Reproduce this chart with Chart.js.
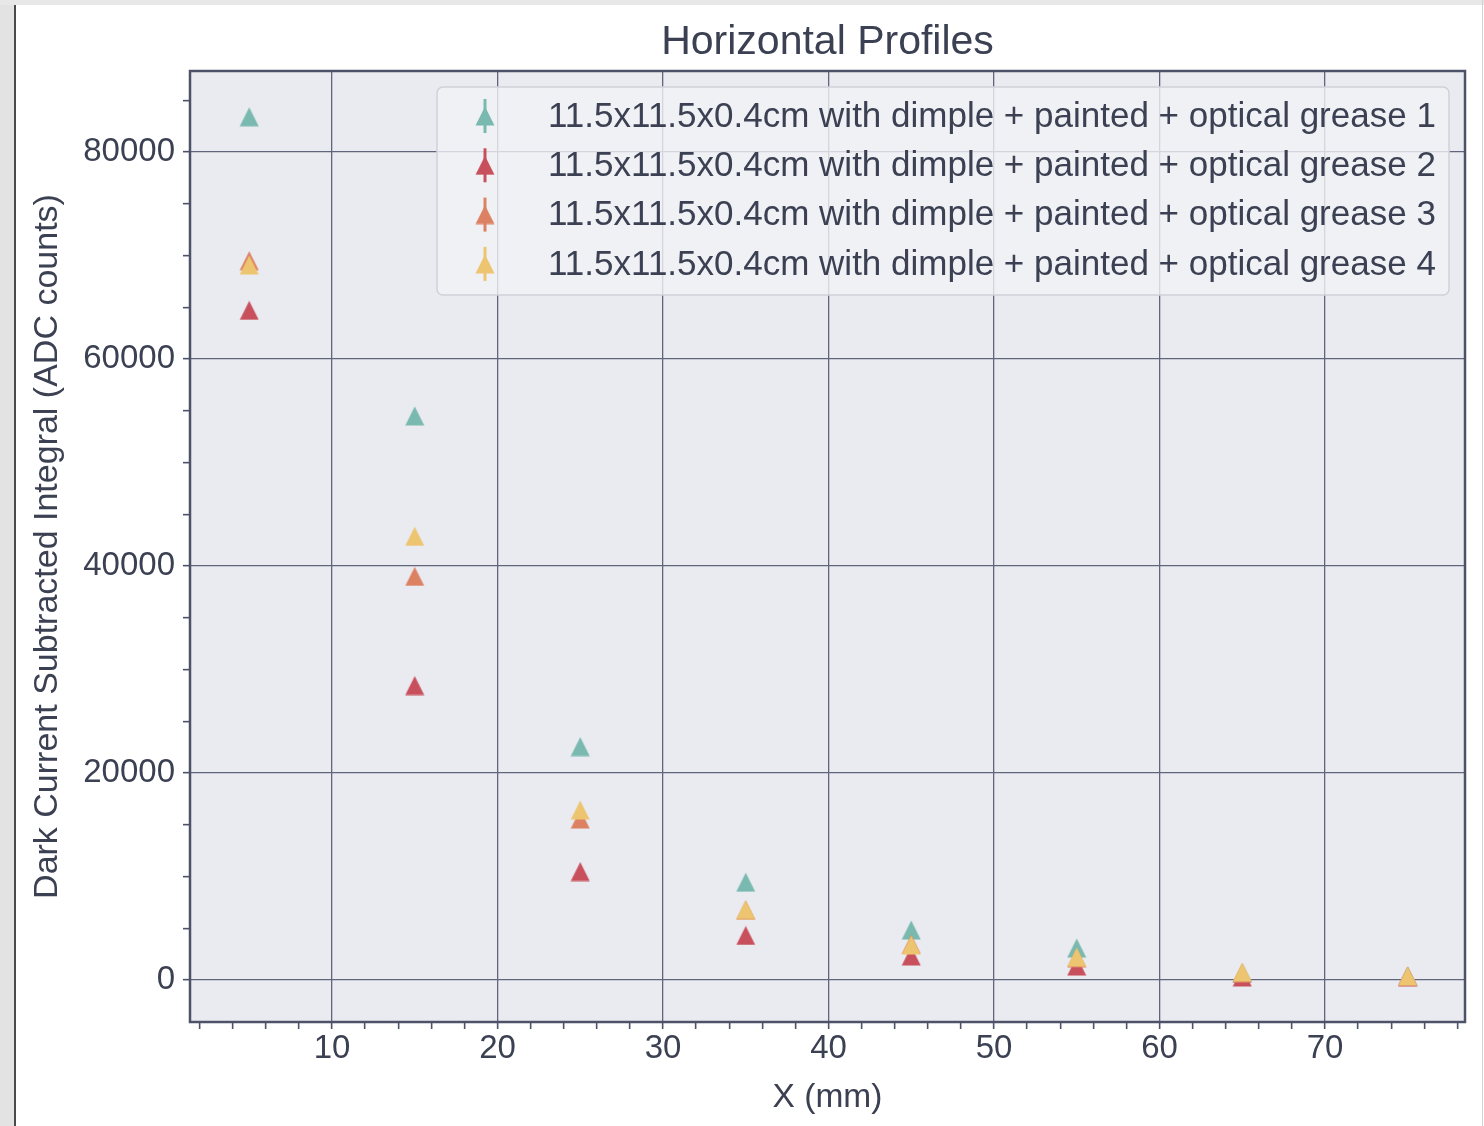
<!DOCTYPE html>
<html>
<head>
<meta charset="utf-8">
<script src="https://cdn.jsdelivr.net/npm/chart.js@4"></script>
<style>
html,body{margin:0;padding:0;background:#fff;width:1484px;height:1126px;overflow:hidden}
.strip{position:absolute}
canvas{position:absolute;left:0;top:0}
</style>
</head>
<body>
<div class="strip" style="left:0;top:0;width:14px;height:1126px;background:#e3e3e3"></div>
<div class="strip" style="left:14px;top:0;width:2px;height:1126px;background:#4a4a4a"></div>
<div class="strip" style="left:0;top:0;width:1484px;height:5px;background:#e8e8e8"></div>
<div class="strip" style="left:1482px;top:0;width:1px;height:1126px;background:#d4d4d4"></div>
<canvas id="c" width="1484" height="1126"></canvas>
<script>
// ---- data ----
const xValues = [5, 15, 25, 35, 45, 55, 65, 75];
const grease1 = [83400, 54500, 22550, 9450, 4830, 3090, 700, 380];
const grease2 = [64700, 28450, 10480, 4300, 2320, 1350, 290, 330];
const grease3 = [69500, 39000, 15550, 6750, 3450, 2150, 650, 360];
const grease4 = [69080, 42870, 16420, 6810, 3380, 2220, 770, 386];
const seriesLabels = [
  '11.5x11.5x0.4cm with dimple + painted + optical grease 1',
  '11.5x11.5x0.4cm with dimple + painted + optical grease 2',
  '11.5x11.5x0.4cm with dimple + painted + optical grease 3',
  '11.5x11.5x0.4cm with dimple + painted + optical grease 4'
];
const seriesColors = ['#79b9af', '#c8505c', '#dc8263', '#edc470'];
const xTickLabels = [10, 20, 30, 40, 50, 60, 70];
const yTickLabels = [0, 20000, 40000, 60000, 80000];
const xMinorStep = 2;
const yMinorStep = 5000;

// ---- style ----
const FONT = '"Liberation Sans", Arial, Helvetica, sans-serif';
const TEXT = '#3b4052';
const GRID = '#60657c';
const SPINE = '#4d5269';
const PLOT_BG = '#eaebf1';

function triangleImage(color, size) {
  const c = document.createElement('canvas');
  c.width = size; c.height = size;
  const g = c.getContext('2d');
  g.fillStyle = color;
  g.beginPath();
  g.moveTo(size / 2, 0.5);
  g.lineTo(size - 0.5, size - 0.5);
  g.lineTo(0.5, size - 0.5);
  g.closePath();
  g.fill();
  return c;
}

function minorTicks(scale, step) {
  const out = [];
  const start = Math.ceil(scale.min / step) * step;
  for (let v = start; v <= scale.max + 1e-9; v += step) out.push({ value: Math.round(v * 1000) / 1000 });
  scale.ticks = out;
}

const seriesValues = [grease1, grease2, grease3, grease4];
const datasets = seriesValues.map((vals, i) => ({
  label: seriesLabels[i],
  data: xValues.map((x, j) => ({ x: x, y: vals[j] })),
  backgroundColor: seriesColors[i],
  borderColor: seriesColors[i],
  pointStyle: triangleImage(seriesColors[i], 20),
  pointRadius: 10,
  showLine: false,
  order: 4 - i
}));

const bgPlugin = {
  id: 'plotBg',
  beforeDraw(chart) {
    const { ctx, chartArea: a } = chart;
    ctx.save();
    ctx.fillStyle = PLOT_BG;
    ctx.fillRect(a.left, a.top, a.width, a.height);
    ctx.restore();
  }
};

const legendPlugin = {
  id: 'boxLegend',
  afterDatasetsDraw(chart) {
    const { ctx, chartArea: a } = chart;
    const w = 1012, h = 208;
    const x0 = a.right - 16 - w, y0 = a.top + 16;
    ctx.save();
    ctx.beginPath();
    if (ctx.roundRect) ctx.roundRect(x0, y0, w, h, 6); else ctx.rect(x0, y0, w, h);
    ctx.fillStyle = 'rgba(241,242,246,0.8)';
    ctx.fill();
    ctx.lineWidth = 1.5;
    ctx.strokeStyle = '#cfd1d9';
    ctx.stroke();
    chart.data.datasets.forEach((ds, i) => {
      const cy = y0 + 29 + i * 49.3;
      const mx = x0 + 48;
      ctx.strokeStyle = ds.borderColor;
      ctx.lineWidth = 3;
      ctx.beginPath();
      ctx.moveTo(mx, cy - 17);
      ctx.lineTo(mx, cy + 17);
      ctx.stroke();
      ctx.drawImage(ds.pointStyle, mx - 10, cy - 10);
      ctx.fillStyle = TEXT;
      ctx.font = '35px ' + FONT;
      ctx.textBaseline = 'middle';
      ctx.textAlign = 'left';
      ctx.fillText(ds.label, x0 + 111, cy + 1);
    });
    ctx.restore();
  }
};

const framePlugin = {
  id: 'frame',
  afterDraw(chart) {
    const { ctx, chartArea: a } = chart;
    ctx.save();
    ctx.strokeStyle = SPINE;
    ctx.lineWidth = 2.5;
    ctx.strokeRect(a.left, a.top, a.width, a.height);
    ctx.restore();
  }
};

new Chart(document.getElementById('c'), {
  type: 'scatter',
  data: { datasets: datasets },
  plugins: [bgPlugin, legendPlugin, framePlugin],
  options: {
    responsive: false,
    animation: false,
    devicePixelRatio: 1,
    layout: { padding: { left: 0, right: 19, top: 0, bottom: 0 } },
    plugins: {
      legend: { display: false },
      tooltip: { enabled: false },
      title: {
        display: true,
        fullSize: false,
        text: 'Horizontal Profiles',
        color: TEXT,
        font: { family: FONT, size: 41, weight: 'normal' },
        padding: { top: 18.4, bottom: 3.4 }
      }
    },
    scales: {
      x: {
        type: 'linear',
        min: 1.42,
        max: 78.46,
        afterFit(s) { s.height = 104; },
        afterBuildTicks(s) { minorTicks(s, xMinorStep); },
        border: { display: false },
        grid: {
          color: c => (c.tick && xTickLabels.includes(c.tick.value)) ? GRID : 'rgba(0,0,0,0)',
          lineWidth: 1.3,
          drawTicks: true,
          tickLength: 7,
          tickColor: SPINE,
          tickWidth: 1.6
        },
        ticks: {
          autoSkip: false,
          maxRotation: 0,
          padding: 0,
          color: TEXT,
          font: { family: FONT, size: 33 },
          callback: v => xTickLabels.includes(v) ? String(v) : ''
        },
        title: {
          display: true,
          text: 'X (mm)',
          color: TEXT,
          font: { family: FONT, size: 33.5 },
          padding: { top: 0, bottom: 7.9 }
        }
      },
      y: {
        type: 'linear',
        min: -4058,
        max: 87826,
        afterFit(s) { s.width = 190; },
        afterBuildTicks(s) { minorTicks(s, yMinorStep); },
        border: { display: false },
        grid: {
          color: c => (c.tick && yTickLabels.includes(c.tick.value)) ? GRID : 'rgba(0,0,0,0)',
          lineWidth: 1.3,
          drawTicks: true,
          tickLength: 7,
          tickColor: SPINE,
          tickWidth: 1.6
        },
        ticks: {
          autoSkip: false,
          padding: 8,
          color: TEXT,
          font: { family: FONT, size: 33 },
          callback: v => yTickLabels.includes(v) ? String(v) : ''
        },
        title: {
          display: true,
          text: 'Dark Current Subtracted Integral (ADC counts)',
          color: TEXT,
          font: { family: FONT, size: 34 },
          padding: { top: 27.6, bottom: 0 }
        }
      }
    }
  }
});
</script>
</body>
</html>
